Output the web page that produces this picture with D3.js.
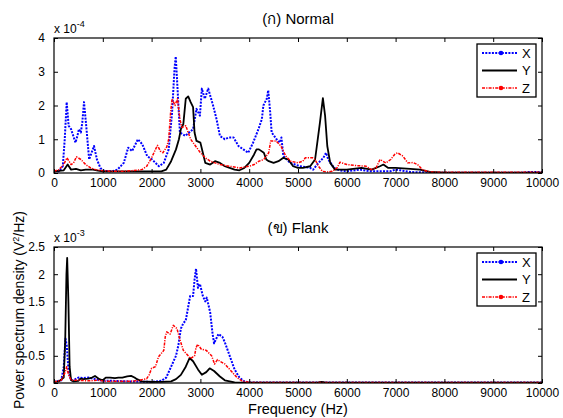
<!DOCTYPE html>
<html>
<head>
<meta charset="utf-8">
<script src="https://cdn.jsdelivr.net/npm/d3@7"></script>
<style>
  body { margin: 0; background: #fff; }
  svg text { font-family: "Liberation Sans", Arial, sans-serif; fill: #000; }
</style>
</head>
<body>
<svg id="chart" width="563" height="418"></svg>
<script>
// (ก) Normal, values in 1e-4 V^2/Hz, [frequency, value]
var normalX = [[0,0.05],[100,0.05],[180,0.2],[220,1.0],[260,2.1],[300,1.4],[350,1.3],[440,0.9],[480,1.1],[510,1.3],[550,1.2],[580,1.5],[615,2.1],[660,1.4],[720,0.4],[770,0.6],[820,0.8],[880,0.4],[950,0.15],[1000,0.08],[1100,0.05],[1200,0.05],[1300,0.1],[1430,0.3],[1520,0.75],[1600,0.65],[1720,1.0],[1810,0.85],[1910,0.5],[2010,0.4],[2150,0.2],[2250,0.3],[2350,0.7],[2420,1.8],[2470,3.1],[2495,3.45],[2520,2.8],[2550,2.0],[2580,1.2],[2690,1.1],[2850,1.3],[2920,1.9],[2990,1.7],[3030,2.5],[3090,2.2],[3160,2.5],[3260,2.0],[3330,1.6],[3400,1.1],[3500,1.0],[3580,1.05],[3680,1.05],[3780,0.8],[3880,0.7],[3980,0.6],[4080,0.9],[4190,1.3],[4260,1.6],[4290,2.0],[4360,2.2],[4390,2.45],[4430,1.8],[4460,1.2],[4560,1.0],[4630,0.9],[4660,1.05],[4700,0.5],[4840,0.3],[5040,0.2],[5250,0.15],[5310,0.1],[5420,0.3],[5520,0.45],[5575,0.6],[5620,0.4],[5740,0.15],[5850,0.08],[6000,0.05],[6270,0.1],[6480,0.05],[6700,0.05],[6890,0.05],[7000,0.1],[7090,0.08],[7300,0.03],[7500,0.02],[7800,0.01],[9600,0.01],[9700,0.03],[10000,0.03]];
var normalY = [[0,0.05],[200,0.08],[280,0.25],[350,0.1],[450,0.12],[550,0.08],[650,0.1],[800,0.1],[900,0.07],[1000,0.05],[1500,0.05],[2000,0.05],[2200,0.05],[2300,0.1],[2400,0.35],[2500,0.7],[2560,1.0],[2600,1.3],[2650,1.45],[2700,2.2],[2750,2.27],[2800,2.1],[2850,1.95],[2880,1.2],[2920,0.95],[3000,0.9],[3050,0.6],[3100,0.3],[3200,0.25],[3300,0.35],[3400,0.3],[3500,0.2],[3600,0.15],[3700,0.1],[3800,0.08],[3900,0.15],[4000,0.3],[4100,0.55],[4150,0.7],[4200,0.7],[4300,0.6],[4350,0.4],[4400,0.35],[4500,0.3],[4600,0.35],[4700,0.45],[4800,0.4],[4900,0.2],[5000,0.15],[5100,0.15],[5250,0.2],[5350,0.4],[5450,1.5],[5510,2.22],[5555,1.7],[5600,0.8],[5660,0.3],[5760,0.1],[6000,0.1],[6300,0.15],[6510,0.1],[6680,0.2],[6750,0.25],[6850,0.15],[7000,0.15],[7300,0.12],[7500,0.1],[7700,0.03],[8000,0.01],[10000,0.01]];
var normalZ = [[0,0.05],[100,0.1],[200,0.25],[265,0.45],[350,0.25],[400,0.3],[460,0.48],[550,0.4],[650,0.25],[750,0.15],[850,0.1],[1000,0.07],[1200,0.05],[1400,0.05],[1600,0.07],[1800,0.1],[1900,0.2],[2000,0.45],[2080,0.7],[2120,0.82],[2180,0.65],[2230,0.6],[2310,0.77],[2350,1.0],[2390,1.8],[2420,2.2],[2480,2.0],[2530,2.2],[2580,1.6],[2620,1.35],[2700,1.4],[2750,1.2],[2800,1.0],[2900,0.8],[3000,0.6],[3100,0.45],[3200,0.35],[3400,0.25],[3600,0.2],[3800,0.15],[4000,0.2],[4100,0.25],[4200,0.35],[4300,0.4],[4400,0.6],[4440,0.95],[4550,0.95],[4650,0.8],[4750,0.5],[4850,0.35],[5000,0.3],[5100,0.35],[5150,0.45],[5300,0.45],[5350,0.4],[5420,0.2],[5500,0.05],[5600,0.03],[5700,0.05],[5800,0.15],[5860,0.32],[6000,0.25],[6200,0.22],[6400,0.2],[6500,0.1],[6600,0.15],[6680,0.4],[6800,0.3],[6900,0.4],[6980,0.55],[7040,0.6],[7150,0.5],[7250,0.3],[7360,0.31],[7450,0.25],[7550,0.1],[7700,0.03],[8000,0.02],[10000,0.02]];

// (ข) Flank, values in 1e-3 V^2/Hz
var flankX = [[0,0.02],[150,0.05],[200,0.3],[235,0.82],[260,0.7],[300,0.2],[350,0.05],[400,0.05],[500,0.1],[600,0.09],[700,0.1],[800,0.08],[900,0.06],[1000,0.04],[1200,0.04],[1500,0.03],[2000,0.02],[2200,0.04],[2300,0.1],[2400,0.3],[2500,0.5],[2550,0.7],[2600,1.0],[2650,1.1],[2700,1.15],[2750,1.4],[2790,1.6],[2850,1.6],[2880,1.9],[2910,2.1],[2950,1.75],[2990,1.82],[3050,1.6],[3100,1.5],[3130,1.57],[3200,1.3],[3250,0.9],[3280,0.73],[3370,0.9],[3450,0.85],[3500,0.75],[3600,0.5],[3700,0.25],[3800,0.1],[3900,0.03],[4000,0.01],[10000,0.01]];
var flankY = [[0,0.02],[100,0.03],[200,0.1],[230,0.8],[255,2.0],[270,2.3],[295,1.5],[320,0.3],[350,0.05],[400,0.03],[500,0.04],[540,0.08],[600,0.07],[700,0.08],[780,0.1],[840,0.13],[930,0.07],[1000,0.05],[1060,0.1],[1150,0.1],[1250,0.09],[1320,0.1],[1400,0.1],[1500,0.12],[1580,0.13],[1650,0.1],[1700,0.07],[1800,0.03],[2000,0.02],[2200,0.02],[2400,0.03],[2500,0.07],[2600,0.15],[2700,0.3],[2780,0.46],[2850,0.4],[2950,0.25],[3030,0.15],[3120,0.2],[3190,0.27],[3280,0.22],[3400,0.12],[3500,0.05],[3600,0.03],[3700,0.01],[4000,0.005],[5400,0.005],[5480,0.02],[5550,0.01],[10000,0.005]];
var flankZ = [[0,0.02],[150,0.05],[230,0.2],[260,0.3],[300,0.15],[350,0.05],[500,0.05],[700,0.04],[900,0.05],[1100,0.03],[1500,0.03],[1700,0.04],[1800,0.06],[1900,0.08],[1950,0.15],[2000,0.27],[2080,0.3],[2140,0.48],[2250,0.6],[2280,0.85],[2310,0.94],[2380,0.9],[2445,1.06],[2520,1.0],[2580,0.8],[2650,0.6],[2700,0.55],[2800,0.45],[2880,0.5],[2910,0.65],[2945,0.71],[3020,0.62],[3120,0.6],[3230,0.5],[3290,0.35],[3350,0.43],[3400,0.4],[3500,0.35],[3550,0.3],[3650,0.2],[3750,0.1],[3850,0.04],[4000,0.01],[10000,0.01]];

var xTicks = d3.range(0, 10001, 1000);
var normalTicks = [0, 1, 2, 3, 4];
var flankTicks = [0, 0.5, 1, 1.5, 2, 2.5];

var series = [
    {name: "X", color: "#0000ff", dash: "2,1.3", width: 2, dot: true},
    {name: "Y", color: "#000000", dash: null, width: 1.8, dot: false},
    {name: "Z", color: "#ff0000", dash: "3,1.2,1.2,1.2", width: 1.5, dot: true}
];

var svg = d3.select("#chart");
var left = 54, right = 542;

var x = d3.scaleLinear().domain([0, 10000]).range([left, right]);

function panel(opts) {
    var y = d3.scaleLinear().domain([0, opts.ymax]).range([opts.bottom, opts.top]);
    var g = svg.append("g");

    var clipId = "clip_" + opts.id;
    g.append("clipPath").attr("id", clipId)
        .append("rect")
            .attr("x", left).attr("y", opts.top)
            .attr("width", right - left).attr("height", opts.bottom - opts.top);

    var line = d3.line()
        .x(d => x(d[0]))
        .y(d => y(d[1]));

    var lines = g.append("g").attr("clip-path", "url(#" + clipId + ")");
    opts.data.forEach(function(d, i) {
        var s = series[i];
        lines.append("path")
            .datum(d)
            .attr("fill", "none")
            .attr("stroke", s.color)
            .attr("stroke-width", s.width)
            .attr("stroke-dasharray", s.dash)
            .attr("stroke-linejoin", "round")
            .attr("d", line);
    });

    // axes: bottom labels, inward ticks on all four sides
    g.append("g")
        .attr("transform", `translate(0,${opts.bottom})`)
        .call(d3.axisBottom(x).tickValues(xTicks).tickSizeInner(-4).tickSizeOuter(0).tickPadding(8).tickFormat(d3.format("d")))
        .call(a => a.select(".domain").remove())
        .call(a => a.selectAll("text").attr("font-size", 12).attr("dy", "0.5em"));

    g.append("g")
        .attr("transform", `translate(0,${opts.top})`)
        .call(d3.axisTop(x).tickValues(xTicks).tickSizeInner(-4).tickSizeOuter(0).tickFormat(""))
        .call(a => a.select(".domain").remove());

    g.append("g")
        .attr("transform", `translate(${left},0)`)
        .call(d3.axisLeft(y).tickValues(opts.ticks).tickSizeInner(-4).tickSizeOuter(0).tickPadding(9).tickFormat(d3.format("~g")))
        .call(a => a.select(".domain").remove())
        .call(a => a.selectAll("text").attr("font-size", 12));

    g.append("g")
        .attr("transform", `translate(${right},0)`)
        .call(d3.axisRight(y).tickValues(opts.ticks).tickSizeInner(-4).tickSizeOuter(0).tickFormat(""))
        .call(a => a.select(".domain").remove());

    g.append("rect")
        .attr("x", left).attr("y", opts.top)
        .attr("width", right - left).attr("height", opts.bottom - opts.top)
        .attr("fill", "none").attr("stroke", "#000").attr("stroke-width", 1.2);

    // exponent label
    var ex = g.append("text")
        .attr("x", left).attr("y", opts.top - 5)
        .attr("font-size", 12);
    ex.append("tspan").text("x 10");
    ex.append("tspan").attr("dy", -6).attr("font-size", 9).text(opts.exp);

    g.append("text")
        .attr("x", (left + right) / 2).attr("y", opts.top - 14)
        .attr("text-anchor", "middle")
        .attr("font-size", 15)
        .text(opts.title);

    // legend
    var lg = g.append("g").attr("transform", `translate(477,${opts.top + 6})`);
    lg.append("rect")
        .attr("width", 59).attr("height", 53)
        .attr("fill", "#fff").attr("stroke", "#000").attr("stroke-width", 1.3);
    series.forEach(function(s, i) {
        var yy = 9 + i * 17.5;
        lg.append("line")
            .attr("x1", 5).attr("x2", 40).attr("y1", yy).attr("y2", yy)
            .attr("stroke", s.color).attr("stroke-width", s.width)
            .attr("stroke-dasharray", s.dash);
        if(s.dot) {
            lg.append("circle")
                .attr("cx", 24).attr("cy", yy).attr("r", 2.3)
                .attr("fill", s.color);
        }
        lg.append("text")
            .attr("x", 45).attr("y", yy).attr("dy", "0.36em")
            .attr("font-size", 13)
            .text(s.name);
    });
}

panel({id: "n", top: 38, bottom: 173, ymax: 4, ticks: normalTicks, exp: "-4",
       title: "(ก) Normal", data: [normalX, normalY, normalZ]});
panel({id: "f", top: 247, bottom: 383, ymax: 2.5, ticks: flankTicks, exp: "-3",
       title: "(ข) Flank", data: [flankX, flankY, flankZ]});

svg.append("text")
    .attr("x", (left + right) / 2).attr("y", 414)
    .attr("text-anchor", "middle")
    .attr("font-size", 14.5)
    .text("Frequency (Hz)");

var yl = svg.append("text")
    .attr("transform", "translate(19,310) rotate(-90)")
    .attr("text-anchor", "middle")
    .attr("dy", "0.35em")
    .attr("font-size", 14);
yl.append("tspan").text("Power spectrum density (V");
yl.append("tspan").attr("dy", -5).attr("font-size", 9).text("2");
yl.append("tspan").attr("dy", 5).text("/Hz)");
</script>
</body>
</html>
